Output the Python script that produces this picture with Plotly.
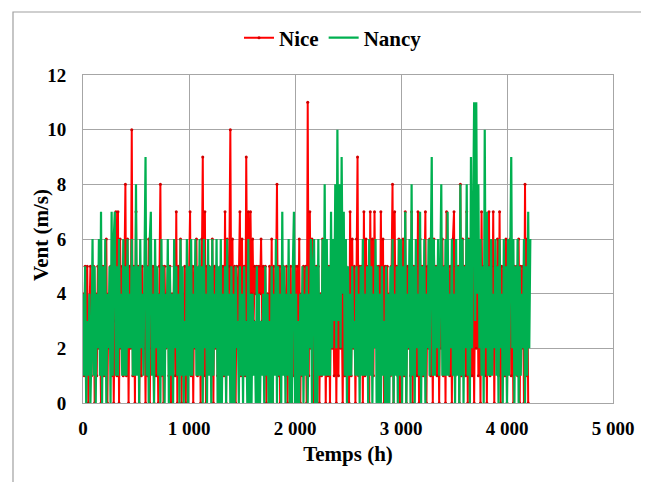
import plotly.graph_objects as go

# ---- data (10 h resolution) ----
step_h = 10

nice_vent = [
    4,1,5,2,5,0,3,5,1,4,
    5,0,4,1,5,2,3,0,5,1,
    5,1,6,0,4,2,5,1,5,0,
    3,7,1,7,0,6,2,5,1,5,
    8,1,6,0,5,2,10,1,5,0,
    7,2,5,0,5,1,5,2,4,0,
    5,1,6,0,4,2,5,0,5,1,
    4,0,5,8,1,5,0,5,2,4,
    5,1,5,0,4,2,5,1,7,0,
    5,2,6,0,4,1,5,0,5,2,
    4,7,1,5,0,5,2,6,1,4,
    5,0,6,9,1,7,0,5,2,5,
    4,1,6,0,5,2,5,1,4,0,
    5,2,5,1,7,0,6,2,5,10,
    2,6,1,5,0,5,2,5,7,1,
    6,2,5,1,9,3,7,2,7,4,
    6,3,5,4,5,3,5,4,6,3,
    5,1,5,0,4,2,5,1,6,0,
    5,2,4,8,1,5,0,5,2,5,
    4,1,5,0,4,2,5,0,4,1,
    5,1,5,2,6,0,4,1,5,2,
    5,0,11,1,7,2,6,0,5,1,
    5,2,5,0,4,1,6,2,5,0,
    4,1,5,0,5,2,4,1,6,0,
    5,1,6,2,4,0,5,1,5,2,
    4,0,7,1,6,2,5,0,6,9,
    1,5,2,5,0,7,1,6,2,5,
    0,7,2,6,1,7,3,5,2,5,
    1,7,2,6,0,5,1,5,2,4,
    1,5,8,0,7,2,5,1,6,0,
    5,2,6,1,7,0,5,2,5,1,
    7,0,5,2,5,1,7,0,6,2,
    5,1,5,7,0,5,2,6,1,5,
    0,6,2,5,1,5,0,5,2,6,
    1,5,0,7,2,5,1,5,0,6,
    7,1,5,2,5,0,8,1,6,2,
    5,1,7,0,6,2,5,1,5,0,
    5,2,6,1,5,0,7,2,5,1,
    6,0,5,7,1,5,2,7,0,5,
    2,6,1,7,0,5,2,5,1,6,
    0,5,2,6,1,5,0,5,2,5,
    1,6,0,5,2,5,0,8,1,6,
    0,
]

nancy_vent = [
    4,1,5,0,3,1,4,0,2,6,
    1,5,0,4,2,6,1,7,0,5,
    1,6,0,4,2,5,0,7,1,6,
    7,1,5,1,6,2,4,1,6,1,
    5,1,6,2,4,2,6,1,5,1,
    8,1,5,0,6,2,4,1,5,9,
    1,5,0,6,7,1,4,0,6,2,
    5,1,4,0,6,1,5,0,4,2,
    6,0,5,1,4,0,6,2,5,1,
    4,0,6,1,5,0,3,1,6,0,
    5,1,6,1,4,2,6,1,5,1,
    6,1,5,0,6,2,4,0,6,1,
    5,0,6,1,4,2,6,0,5,0,
    6,0,4,1,5,0,6,1,4,0,
    5,0,4,0,5,2,3,0,5,1,
    4,0,5,1,3,0,6,0,4,0,
    4,1,3,0,5,0,4,0,3,1,
    4,0,5,1,4,0,3,0,5,0,
    4,1,6,0,5,1,4,0,7,1,
    5,0,4,1,6,0,4,0,5,7,
    0,4,0,3,0,4,1,5,0,4,
    1,5,0,4,2,6,0,5,6,0,
    5,0,6,1,4,1,6,1,8,1,
    6,1,5,1,7,2,6,3,8,2,
    10,3,8,2,9,4,7,1,6,0,
    5,1,4,1,5,2,3,1,5,1,
    4,0,5,1,6,1,4,1,5,0,
    6,1,5,0,4,2,6,0,5,0,
    4,0,5,1,3,0,5,0,4,0,
    5,1,6,0,4,1,5,0,6,1,
    6,0,5,1,7,0,4,2,6,0,
    8,1,5,0,6,2,4,1,7,0,
    5,1,6,0,4,2,6,1,5,9,
    1,6,1,5,2,6,1,4,8,1,
    5,1,6,1,7,1,4,2,6,1,
    4,0,6,1,5,0,8,1,6,0,
    5,2,8,1,6,0,9,2,7,11,
    3,11,4,8,2,6,1,5,0,10,
    2,7,1,5,1,6,1,4,2,6,
    1,5,0,6,2,4,0,6,1,5,
    0,6,1,4,9,2,6,0,5,1,
    6,0,5,1,4,2,6,0,5,1,
    7,2,6,
]

nice_temps = [i * step_h for i in range(len(nice_vent))]
nancy_temps = [i * step_h for i in range(len(nancy_vent))]

x_tick_vals = [0, 1000, 2000, 3000, 4000, 5000]
x_tick_text = ["0", "1 000", "2 000", "3 000", "4 000", "5 000"]
y_tick_vals = [0, 2, 4, 6, 8, 10, 12]

series_names = ["Nice", "Nancy"]
x_title = "Temps (h)"
y_title = "Vent (m/s)"

RED = "#FF0000"
GREEN = "#00B050"
GRID = "#A6A6A6"
FONT = "'Liberation Serif', 'Times New Roman', Times, serif"

fig = go.Figure()
fig.add_trace(go.Scatter(
    x=nice_temps, y=nice_vent, name=series_names[0],
    mode="lines+markers",
    line=dict(color=RED, width=2),
    marker=dict(color="#D00000", size=3),
))
fig.add_trace(go.Scatter(
    x=nancy_temps, y=nancy_vent, name=series_names[1],
    mode="lines",
    line=dict(color=GREEN, width=2.2),
))

# page has an 8px body margin: work in page pixels, subtract offset
OFF = 8
W, H = 649 - OFF, 482 - OFF
PL, PR, PT, PB = 83, 613, 75, 403  # plot area in page pixels
L, R, T, B = PL - OFF, W - (PR - OFF), PT - OFF, H - (PB - OFF)
pw, ph = W - L - R, H - T - B

def px_x(px):
    return (px - OFF - L) / pw

def px_y(py):
    return (H - B - (py - OFF)) / ph

fig.add_shape(type="rect", xref="paper", yref="paper",
              x0=px_x(13), x1=px_x(646), y0=px_y(500), y1=px_y(12),
              line=dict(color="#A0A0A0", width=1.2), fillcolor="rgba(0,0,0,0)",
              layer="above")

fig.add_annotation(text=y_title, xref="paper", yref="paper",
                   x=px_x(41), y=px_y(235), xanchor="center", yanchor="middle",
                   textangle=-90, showarrow=False,
                   font=dict(family=FONT, size=21, color="black", weight="bold"))

fig.update_layout(
    width=W, height=H,
    margin=dict(l=L, r=R, t=T, b=B, autoexpand=False),
    paper_bgcolor="white", plot_bgcolor="white",
    font=dict(family=FONT, size=18, color="black", weight="bold"),
    showlegend=True,
    legend=dict(orientation="h", x=px_x(333), y=px_y(38),
                xanchor="center", yanchor="middle",
                font=dict(family=FONT, size=21, color="black", weight="bold"),
                bgcolor="rgba(0,0,0,0)", itemwidth=30, tracegroupgap=0),
    xaxis=dict(
        range=[0, 5000], tickvals=x_tick_vals, ticktext=x_tick_text,
        showgrid=True, gridcolor=GRID, gridwidth=1,
        showline=True, linecolor=GRID, linewidth=1, mirror=True,
        zeroline=False, ticks="", ticklabelstandoff=8,
        tickfont=dict(family=FONT, size=19, color="black", weight="bold"),
        title=dict(text=x_title, standoff=8,
                   font=dict(family=FONT, size=21, color="black", weight="bold")),
        automargin=False,
    ),
    yaxis=dict(
        range=[0, 12], tickvals=y_tick_vals,
        showgrid=True, gridcolor=GRID, gridwidth=1,
        showline=True, linecolor=GRID, linewidth=1, mirror=True,
        zeroline=False, ticks="", ticklabelstandoff=12,
        tickfont=dict(family=FONT, size=19, color="black", weight="bold"),
        automargin=False,
    ),
)

fig.write_html("out.html")
